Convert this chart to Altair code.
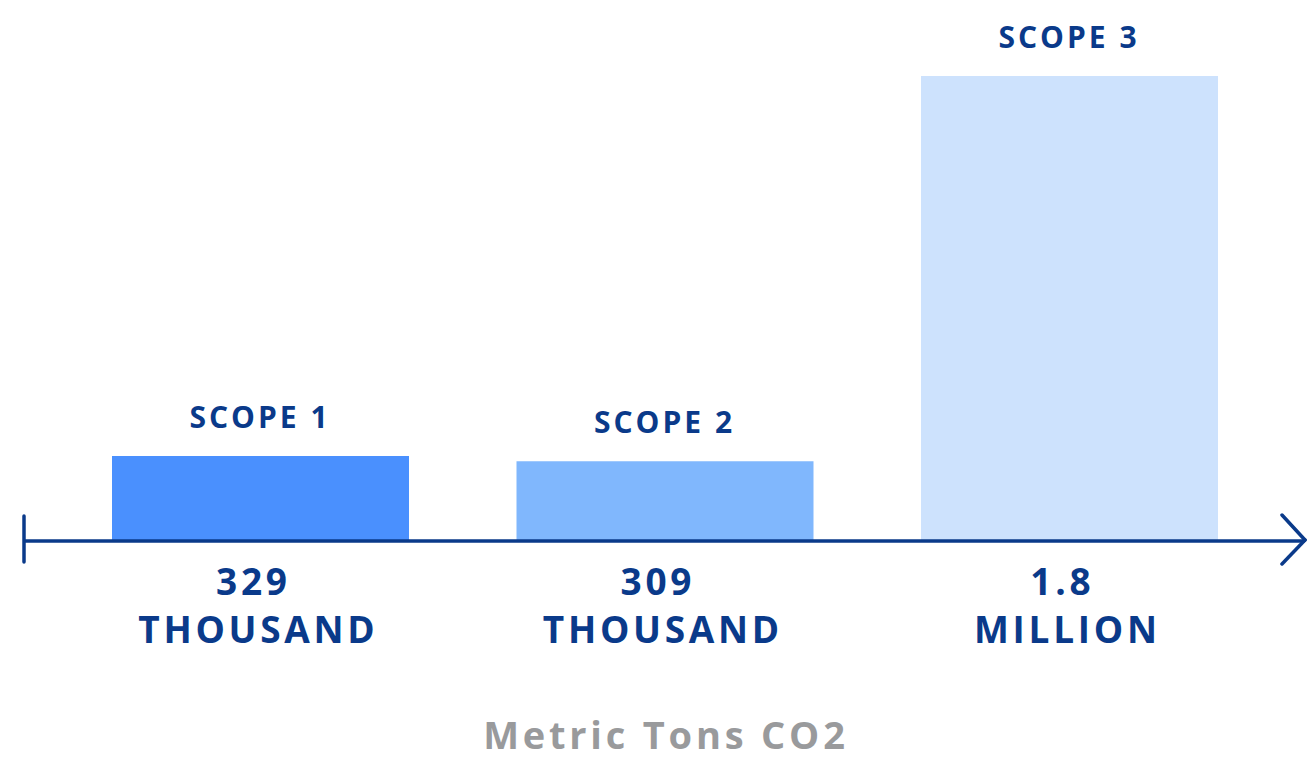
import altair as alt
import pandas as pd

# Emissions by scope, in thousand metric tons of CO2
scopes = ["SCOPE 1", "SCOPE 2", "SCOPE 3"]
values_k = [329, 309, 1800]
amount_labels = ["329", "309", "1.8"]
unit_labels = ["THOUSAND", "THOUSAND", "MILLION"]
bar_colors = ["#4a90fe", "#80b7fd", "#cde2fd"]
caption_text = "Metric Tons CO2"


def tracked(s):
    """Widen letter spacing by putting a hair space between characters."""
    return "\u200a".join(s)


df = pd.DataFrame({
    "scope": scopes,
    "scope_label": [tracked(s) for s in scopes],
    "value": values_k,
    "amount": [tracked(s) for s in amount_labels],
    "unit": [tracked(s) for s in unit_labels],
    "color": bar_colors,
})

W, H = 1307, 759
NAVY = "#0a3a8a"
FONT = "Open Sans"

x = alt.X("scope:N", sort=scopes,
          scale=alt.Scale(range=[58.25, 1271.75], paddingInner=0.266, paddingOuter=0.133),
          axis=None)
y_scale = alt.Scale(domain=[-844, 2094], nice=False, zero=False)

base = alt.Chart(df)

bars = base.mark_bar(size=297).encode(
    x=x,
    y=alt.Y("value:Q", scale=y_scale, axis=None),
    y2=alt.datum(0),
    color=alt.Color("color:N", scale=None),
)

scope_text = base.mark_text(
    font=FONT, fontWeight="bold", fontSize=30, color=NAVY,
    baseline="alphabetic", dy=-28, dx=-2,
).encode(x=x, y=alt.Y("value:Q", scale=y_scale), text="scope_label:N")

amount_text = base.mark_text(
    font=FONT, fontWeight="bold", fontSize=37, color=NAVY,
    baseline="alphabetic", dy=54, dx=-9,
).encode(x=x, y=alt.datum(0, scale=y_scale), text="amount:N")

unit_text = base.mark_text(
    font=FONT, fontWeight="bold", fontSize=37, color=NAVY,
    baseline="alphabetic", dy=102, dx=-4,
).encode(x=x, y=alt.datum(0, scale=y_scale), text="unit:N")

# horizontal axis line with a tick at the start and an arrow head at the end
one = pd.DataFrame({"v": [0]})
axis_line = alt.Chart(one).mark_rule(
    color=NAVY, strokeWidth=3.5
).encode(x=alt.value(24), x2=alt.value(1305), y=alt.Y("v:Q", scale=y_scale))

start_tick = alt.Chart(one).mark_rule(
    color=NAVY, strokeWidth=3.5, strokeCap="round"
).encode(x=alt.value(24), y=alt.value(516), y2=alt.value(562))

arrow_up = alt.Chart(one).mark_rule(
    color=NAVY, strokeWidth=3.5, strokeCap="round"
).encode(x=alt.value(1282), y=alt.value(515), x2=alt.value(1305), y2=alt.value(540))

arrow_down = alt.Chart(one).mark_rule(
    color=NAVY, strokeWidth=3.5, strokeCap="round"
).encode(x=alt.value(1282), y=alt.value(564), x2=alt.value(1305), y2=alt.value(540))

caption = alt.Chart(pd.DataFrame({"t": [tracked(caption_text)]})).mark_text(
    font=FONT, fontWeight="bold", fontSize=38, color="#999a9c", baseline="alphabetic"
).encode(x=alt.value(664), y=alt.value(749), text="t:N")

chart = alt.layer(
    bars, axis_line, start_tick, arrow_up, arrow_down,
    scope_text, amount_text, unit_text, caption,
).properties(
    width=W, height=H, padding=0, autosize=alt.AutoSizeParams(type="none"),
    background="white",
).configure_view(stroke=None)

chart.save("out.html", embed_options={"renderer": "svg", "actions": False})
